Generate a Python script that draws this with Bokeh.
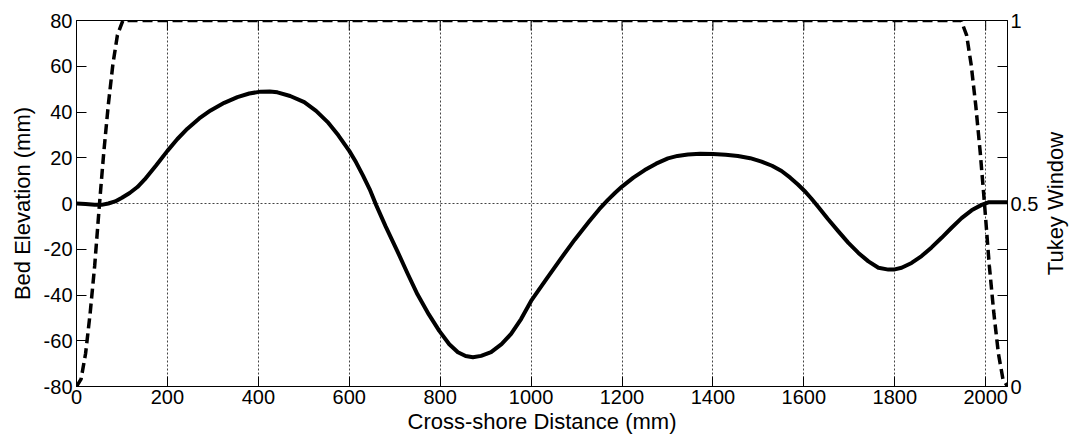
import math
from bokeh.plotting import figure
from bokeh.models import Range1d, LinearAxis, FixedTicker, Label
from bokeh.embed import file_html
from bokeh.resources import INLINE

# Bed elevation profile (mm)
bed_x = [0, 20, 40, 55, 70, 85, 100, 117, 134, 150, 175, 200, 222, 244, 270, 295,
         325, 354, 380, 405, 425, 442, 470, 501, 527, 552, 576, 600, 615, 630, 645,
         659, 680, 706, 728, 750, 775, 798, 820, 839, 856, 872, 890, 912, 935, 956,
         978, 1000, 1032, 1064, 1096, 1128, 1150, 1169, 1185, 1200, 1225, 1250,
         1275, 1301, 1322, 1345, 1372, 1400, 1428, 1455, 1482, 1507, 1530, 1551,
         1570, 1587, 1601, 1616, 1631, 1653, 1676, 1698, 1720, 1742, 1764, 1786,
         1800, 1815, 1837, 1859, 1881, 1903, 1925, 1947, 1969, 1991, 2006, 2020,
         2048]
bed_y = [0.0, -0.2, -0.5, -0.6, 0.0, 0.9, 2.5, 4.6, 7.2, 10.5, 16.6, 23.0, 28.2,
         32.7, 37.2, 40.7, 44.0, 46.5, 48.1, 48.9, 49.0, 48.6, 47.0, 44.3, 40.5,
         35.7, 29.8, 23.0, 18.0, 12.3, 6.2, -0.6, -10.0, -20.9, -30.5, -39.7,
         -48.5, -55.7, -61.5, -65.0, -66.7, -67.2, -66.6, -65.0, -61.5, -57.0,
         -50.5, -42.6, -33.5, -24.5, -15.8, -7.8, -2.5, 1.6, 4.7, 7.4, 11.3, 14.6,
         17.4, 19.7, 20.8, 21.4, 21.7, 21.6, 21.3, 20.8, 19.8, 18.3, 16.5, 14.2,
         11.3, 8.3, 5.6, 2.3, -1.3, -6.8, -12.2, -17.2, -21.6, -25.3, -28.1, -28.9,
         -28.8, -28.1, -26.0, -23.0, -19.2, -15.0, -10.6, -6.4, -3.0, -0.6, 0.5,
         0.6, 0.6]

# Tukey window (right axis)
tukey_x = [0, 10, 20, 30, 40, 50, 60, 70, 80, 90, 102, 1946, 1958, 1968, 1978,
           1988, 1998, 2008, 2018, 2028, 2038, 2048]
tukey_w = [0, 0.02, 0.09, 0.2, 0.33, 0.49, 0.64, 0.77, 0.88, 0.96, 1, 1, 0.96,
           0.88, 0.77, 0.64, 0.49, 0.33, 0.2, 0.09, 0.02, 0]

x_ticks = [0, 200, 400, 600, 800, 1000, 1200, 1400, 1600, 1800, 2000]
y_ticks = [-80, -60, -40, -20, 0, 20, 40, 60, 80]
tukey_ticks = [0, 0.5, 1]
tukey_labels = ["0", "0.5", "1"]

X_MIN, X_MAX = 0, 2048
Y_MIN, Y_MAX = -80, 80
FRAME_W, FRAME_H = 931, 366
TICK_LEN = 10

FONT = "Liberation Sans"
TICK_FS = "20px"
LABEL_FS = "22px"

p = figure(frame_width=FRAME_W, frame_height=FRAME_H,
           x_range=Range1d(X_MIN, X_MAX), y_range=Range1d(Y_MIN, Y_MAX),
           output_backend="svg", toolbar_location=None,
           min_border_left=76, min_border_right=63,
           min_border_top=20, min_border_bottom=51)
p.background_fill_color = "white"
p.border_fill_color = "white"
p.outline_line_color = "black"
p.outline_line_width = 1

p.extra_y_ranges = {"tukey": Range1d(0, 1)}


def style_axis(ax):
    ax.axis_line_color = "black"
    ax.major_tick_line_color = "black"
    ax.minor_tick_line_color = "black"
    ax.major_tick_in = TICK_LEN
    ax.major_tick_out = 0
    ax.minor_tick_in = 0
    ax.minor_tick_out = 0
    ax.major_label_text_font = FONT
    ax.major_label_text_font_size = TICK_FS
    ax.major_label_text_color = "black"
    ax.axis_label_text_font = FONT
    ax.axis_label_text_font_size = LABEL_FS
    ax.axis_label_text_font_style = "normal"
    ax.axis_label_text_color = "black"


# bottom axis
xa = p.xaxis[0]
xa.ticker = FixedTicker(ticks=x_ticks)
xa.axis_label = "Cross-shore Distance (mm)"
style_axis(xa)
xa.major_label_standoff = 3
xa.axis_label_standoff = 2

# left axis (plain hyphen minus signs as in the reference)
ya = p.yaxis[0]
ya.ticker = FixedTicker(ticks=y_ticks)
ya.major_label_overrides = {t: str(t) for t in y_ticks}
ya.axis_label = "Bed Elevation (mm)"
style_axis(ya)
ya.major_label_standoff = 4
ya.axis_label_standoff = 6

# right axis
ra = LinearAxis(y_range_name="tukey",
                ticker=FixedTicker(ticks=tukey_ticks,
                                   minor_ticks=[0.125, 0.25, 0.375, 0.625, 0.75, 0.875]))
ra.major_label_overrides = dict(zip(tukey_ticks, tukey_labels))
style_axis(ra)
ra.minor_tick_in = TICK_LEN
ra.major_label_standoff = 3
p.add_layout(ra, "right")

# right axis title, reading bottom-to-top like the reference
x_per_px = (X_MAX - X_MIN) / FRAME_W
p.add_layout(Label(x=X_MAX + 48 * x_per_px, y=(Y_MIN + Y_MAX) / 2,
                   text="Tukey Window", angle=math.pi / 2,
                   text_align="center", text_baseline="middle",
                   text_font=FONT, text_font_size=LABEL_FS, text_color="black"),
             "right")

# top box ticks (inward), drawn at the x tick positions
tick_dy = TICK_LEN * (Y_MAX - Y_MIN) / FRAME_H
p.segment(x0=x_ticks, y0=[Y_MAX] * len(x_ticks), x1=x_ticks,
          y1=[Y_MAX - tick_dy] * len(x_ticks), line_color="black", line_width=1)

# grids
p.xgrid.ticker = FixedTicker(ticks=x_ticks)
p.ygrid.ticker = FixedTicker(ticks=[0])
for g in (p.xgrid, p.ygrid):
    g.grid_line_color = "#444444"
    g.grid_line_dash = "2 2"
    g.grid_line_width = 1

p.line(bed_x, bed_y, line_color="black", line_width=4, line_join="round", line_cap="round")
p.line(tukey_x, tukey_w, y_range_name="tukey", line_color="black", line_width=3.5,
       line_dash="10 5")

open("out.html", "w").write(file_html(p, INLINE))
